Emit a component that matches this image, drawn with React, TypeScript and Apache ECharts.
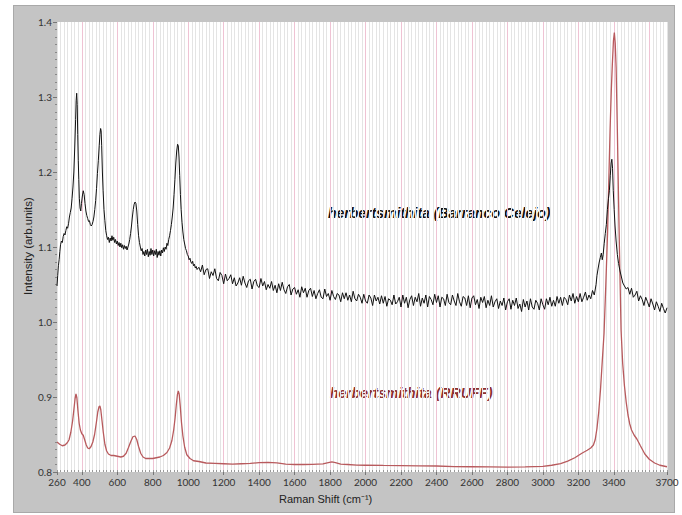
import React, { useEffect, useRef } from "react";
import * as echarts from "echarts";

const xTickLabels = [260, 400, 600, 800, 1000, 1200, 1400, 1600, 1800, 2000, 2200, 2400, 2600, 2800, 3000, 3200, 3400, 3700];
const yTickLabels = [0.8, 0.9, 1.0, 1.1, 1.2, 1.3, 1.4];

const blackName = "herbertsmithita (Barranco Celejo)";
const redName = "herbertsmithita (RRUFF)";

const blackSeries: [number, number][] = [
  [260,1.048],[264,1.062],[268,1.075],[272,1.083],[276,1.094],[280,1.103],[285,1.108],[290,1.106],[295,1.114],[300,1.118],[305,1.116],[310,1.122],[315,1.127],[320,1.125],[325,1.131],[330,1.14],[335,1.146],[340,1.152],[345,1.165],[350,1.18],[355,1.2],[360,1.232],[365,1.27],[368,1.295],[371,1.305],[374,1.29],[377,1.25],[380,1.215],[383,1.19],[386,1.165],[390,1.152],[394,1.148],[398,1.158],[403,1.168],[408,1.175],[413,1.17],[418,1.158],[423,1.148],[428,1.142],[433,1.138],[438,1.134],[443,1.135],[448,1.13],[453,1.128],[458,1.13],[463,1.134],[468,1.14],[473,1.15],[478,1.162],[483,1.178],[488,1.198],[493,1.215],[498,1.235],[502,1.25],[506,1.258],[509,1.255],[512,1.235],[516,1.2],[520,1.175],[525,1.15],[530,1.135],[535,1.122],[540,1.115],[545,1.11],[550,1.113],[555,1.106],[560,1.112],[565,1.108],[570,1.115],[575,1.109],[580,1.113],[585,1.106],[590,1.11],[595,1.104],[600,1.108],[605,1.102],[610,1.106],[615,1.1],[620,1.105],[625,1.099],[630,1.103],[635,1.097],[640,1.102],[645,1.098],[650,1.101],[655,1.096],[660,1.1],[665,1.104],[670,1.11],[675,1.118],[680,1.128],[685,1.14],[690,1.15],[695,1.157],[700,1.16],[705,1.158],[710,1.148],[715,1.13],[720,1.115],[725,1.106],[730,1.1],[735,1.095],[740,1.098],[745,1.09],[750,1.094],[755,1.088],[760,1.096],[765,1.09],[770,1.097],[775,1.087],[780,1.094],[785,1.089],[790,1.098],[795,1.09],[800,1.096],[805,1.088],[810,1.095],[815,1.09],[820,1.097],[825,1.086],[830,1.094],[835,1.089],[840,1.095],[845,1.088],[850,1.096],[855,1.092],[860,1.099],[865,1.094],[870,1.1],[875,1.097],[880,1.105],[885,1.102],[890,1.11],[895,1.115],[900,1.122],[905,1.13],[910,1.14],[915,1.152],[920,1.17],[925,1.19],[930,1.212],[935,1.228],[940,1.237],[944,1.235],[948,1.22],[952,1.195],[956,1.17],[960,1.15],[965,1.133],[970,1.12],[975,1.11],[980,1.104],[985,1.098],[990,1.095],[995,1.09],[1000,1.088],[1005,1.083],[1010,1.085],[1015,1.08],[1020,1.078],[1025,1.081],[1030,1.075],[1035,1.077],[1040,1.072],[1045,1.074],[1050,1.07],
  [1060,1.073],[1070,1.067],[1080,1.076],[1090,1.063],[1100,1.07],
  [1110,1.071],[1120,1.058],[1130,1.067],[1140,1.062],[1150,1.071],[1160,1.058],[1170,1.055],[1180,1.066],[1190,1.062],[1200,1.051],
  [1210,1.064],[1220,1.055],[1230,1.058],[1240,1.063],[1250,1.051],[1260,1.059],[1270,1.048],[1280,1.052],[1290,1.059],[1300,1.049],
  [1310,1.061],[1320,1.052],[1330,1.046],[1340,1.055],[1350,1.057],[1360,1.044],[1370,1.054],[1380,1.057],[1390,1.048],[1400,1.046],
  [1410,1.058],[1420,1.048],[1430,1.054],[1440,1.043],[1450,1.05],[1460,1.045],[1470,1.054],[1480,1.042],[1490,1.049],[1500,1.039],
  [1510,1.051],[1520,1.042],[1530,1.053],[1540,1.043],[1550,1.038],[1560,1.047],[1570,1.05],[1580,1.036],[1590,1.044],[1600,1.046],
  [1610,1.037],[1620,1.043],[1630,1.033],[1640,1.047],[1650,1.039],[1660,1.045],[1670,1.033],[1680,1.042],[1690,1.045],[1700,1.034],
  [1710,1.042],[1720,1.031],[1730,1.038],[1740,1.043],[1750,1.033],[1760,1.031],[1770,1.044],[1780,1.034],[1790,1.038],[1800,1.029],
  [1810,1.042],[1820,1.034],[1830,1.03],[1840,1.038],[1850,1.036],[1860,1.027],[1870,1.039],[1880,1.031],[1890,1.039],[1900,1.029],
  [1910,1.036],[1920,1.027],[1930,1.041],[1940,1.031],[1950,1.028],[1960,1.037],[1970,1.033],[1980,1.025],[1990,1.037],[2000,1.028],
  [2010,1.025],[2020,1.036],[2030,1.032],[2040,1.022],[2050,1.036],[2060,1.028],[2070,1.033],[2080,1.024],[2090,1.035],[2100,1.025],
  [2110,1.034],[2120,1.021],[2130,1.031],[2140,1.029],[2150,1.023],[2160,1.036],[2170,1.024],[2180,1.027],[2190,1.033],[2200,1.02],
  [2210,1.036],[2220,1.025],[2230,1.033],[2240,1.019],[2250,1.03],[2260,1.035],[2270,1.022],[2280,1.033],[2290,1.027],[2300,1.038],
  [2310,1.021],[2320,1.032],[2330,1.025],[2340,1.036],[2350,1.02],[2360,1.034],[2370,1.03],[2380,1.023],[2390,1.037],[2400,1.026],
  [2410,1.035],[2420,1.02],[2430,1.033],[2440,1.031],[2450,1.022],[2460,1.037],[2470,1.026],[2480,1.023],[2490,1.036],[2500,1.028],
  [2510,1.022],[2520,1.038],[2530,1.027],[2540,1.021],[2550,1.034],[2560,1.032],[2570,1.022],[2580,1.035],[2590,1.019],[2600,1.032],
  [2610,1.035],[2620,1.023],[2630,1.03],[2640,1.018],[2650,1.033],[2660,1.026],[2670,1.034],[2680,1.019],[2690,1.029],[2700,1.022],
  [2710,1.035],[2720,1.02],[2730,1.027],[2740,1.031],[2750,1.018],[2760,1.028],[2770,1.022],[2780,1.032],[2790,1.016],[2800,1.027],
  [2810,1.031],[2820,1.017],[2830,1.029],[2840,1.022],[2850,1.032],[2860,1.018],[2870,1.024],[2880,1.014],[2890,1.03],[2900,1.02],
  [2910,1.028],[2920,1.016],[2930,1.031],[2940,1.02],[2950,1.017],[2960,1.029],[2970,1.025],[2980,1.016],[2990,1.031],[3000,1.023],
  [3010,1.017],[3020,1.031],[3030,1.023],[3040,1.033],[3050,1.021],[3060,1.029],[3070,1.021],[3080,1.034],[3090,1.025],[3100,1.033],
  [3110,1.022],[3120,1.033],[3130,1.03],[3140,1.023],[3150,1.036],[3160,1.028],[3170,1.038],[3180,1.025],[3190,1.034],[3200,1.027],
  [3210,1.038],[3220,1.027],[3230,1.033],[3240,1.04],[3250,1.029],[3260,1.036],[3270,1.031],[3280,1.042],[3290,1.036],[3300,1.05],
  [3305,1.062],[3312,1.072],[3318,1.08],[3324,1.086],[3330,1.092],[3335,1.083],[3340,1.09],[3346,1.105],[3352,1.118],[3358,1.13],[3364,1.15],[3370,1.165],[3375,1.175],[3380,1.195],[3385,1.212],[3389,1.217],[3393,1.205],[3397,1.175],[3402,1.15],[3407,1.128],[3413,1.108],[3420,1.09],[3427,1.078],[3435,1.068],[3443,1.06],[3451,1.052],[3460,1.048],[3470,1.044],
  [3480,1.046],[3490,1.037],[3500,1.045],[3510,1.033],[3520,1.036],[3530,1.041],[3540,1.028],[3550,1.035],[3560,1.03],[3570,1.022],[3580,1.033],[3590,1.027],[3600,1.02],[3610,1.031],[3620,1.024],[3630,1.016],[3640,1.027],[3650,1.021],[3660,1.014],[3670,1.025],[3680,1.018],[3690,1.012],[3700,1.019]
];

const redSeries: [number, number][] = [
  [260,0.84],[275,0.837],[290,0.835],[305,0.836],[318,0.839],[328,0.843],[338,0.853],[348,0.868],[356,0.885],[362,0.898],[367,0.904],[372,0.899],[378,0.882],[385,0.865],[392,0.856],[400,0.851],[408,0.849],[416,0.843],[425,0.836],[433,0.832],[442,0.831],[452,0.834],[462,0.84],[472,0.85],[482,0.866],[490,0.88],[497,0.887],[502,0.888],[507,0.883],[514,0.868],[521,0.853],[530,0.837],[540,0.828],[550,0.824],[565,0.822],[580,0.822],[600,0.821],[620,0.82],[635,0.821],[650,0.825],[662,0.832],[675,0.84],[688,0.847],[700,0.848],[710,0.843],[720,0.834],[732,0.825],[745,0.82],[760,0.818],[780,0.818],[800,0.818],[820,0.819],[840,0.82],[860,0.822],[880,0.826],[895,0.832],[908,0.842],[918,0.856],[926,0.872],[933,0.89],[939,0.903],[944,0.908],[949,0.904],[955,0.888],[962,0.866],[970,0.848],[980,0.833],[992,0.823],[1010,0.818],[1030,0.815],[1060,0.814],[1100,0.812],[1150,0.8115],[1200,0.811],[1250,0.8105],[1300,0.811],[1350,0.8115],[1400,0.8125],[1450,0.8128],[1500,0.8122],[1550,0.8105],[1600,0.81],[1650,0.81],[1700,0.8102],[1760,0.8108],[1790,0.8125],[1810,0.8135],[1830,0.8125],[1860,0.8105],[1900,0.81],[1950,0.8092],[2000,0.809],[2100,0.8087],[2200,0.8085],[2300,0.8082],[2400,0.808],[2500,0.8072],[2600,0.807],[2700,0.8068],[2800,0.8065],[2900,0.8068],[3000,0.8075],[3050,0.809],[3100,0.8112],[3140,0.8145],[3180,0.819],[3220,0.825],[3250,0.829],[3270,0.832],[3285,0.836],[3295,0.843],[3305,0.858],[3315,0.88],[3325,0.91],[3335,0.948],[3345,0.985],[3355,1.05],[3365,1.12],[3372,1.19],[3379,1.256],[3386,1.31],[3392,1.345],[3398,1.375],[3403,1.386],[3408,1.372],[3413,1.34],[3420,1.256],[3427,1.16],[3434,1.07],[3441,0.989],[3450,0.945],[3460,0.915],[3470,0.893],[3480,0.876],[3490,0.864],[3500,0.856],[3515,0.849],[3530,0.844],[3550,0.835],[3575,0.824],[3600,0.817],[3630,0.812],[3660,0.809],[3700,0.807]
];

const FONT = "'Liberation Sans', Arial, sans-serif";
const TICK_FONT = "Lato, 'Liberation Sans', sans-serif";
const GRAY_LINE = "#e4e4e4";
const PINK_LINE = "#efc3d4";

export default function App() {
  const ref = useRef<HTMLDivElement>(null);
  useEffect(() => {
    if (!ref.current) return;
    const chart = echarts.init(ref.current, undefined, { renderer: "svg" });
    const gridColors = Array.from({ length: 10 }, (_, i) => (i === 7 ? PINK_LINE : GRAY_LINE));
    chart.setOption({
      animation: false,
      backgroundColor: "transparent",
      grid: {
        left: 57, top: 22, right: 15, bottom: 43,
        show: true, backgroundColor: "#ffffff", borderWidth: 0,
      },
      xAxis: [
        {
          type: "value", min: 260, max: 3700, position: "bottom",
          axisLine: { show: false },
          axisTick: { show: true, customValues: xTickLabels, length: 3, lineStyle: { color: "#777" } },
          axisLabel: { customValues: xTickLabels, color: "#333", fontSize: 10, fontFamily: TICK_FONT, margin: 5, formatter: (v: number) => String(v) },
          splitLine: { show: false },
        },
        {
          type: "value", min: 260, max: 3700, interval: 20, position: "bottom",
          axisLine: { show: false },
          axisTick: { show: true, length: 2, inside: true, lineStyle: { color: "#999" } },
          axisLabel: { show: false },
          splitLine: { show: true, showMinLine: true, showMaxLine: true, lineStyle: { color: gridColors, width: 1 } },
        },
      ],
      yAxis: {
        type: "value", min: yTickLabels[0], max: yTickLabels[yTickLabels.length - 1], interval: 0.1,
        axisLine: { show: false },
        axisTick: { show: true, length: 4, lineStyle: { color: "#777" } },
        minorTick: { show: true, splitNumber: 10, length: 2, lineStyle: { color: "#888" } },
        axisLabel: { color: "#333", fontSize: 10, fontFamily: TICK_FONT, margin: 5, formatter: (v: number) => v.toFixed(1) },
        splitLine: { show: false },
      },
      graphic: [
        {
          type: "text", left: 279, top: 493,
          style: { text: "Raman Shift (cm⁻¹)", fill: "#222", font: `11px ${FONT}` },
        },
        {
          type: "text", x: 28, y: 246, rotation: Math.PI / 2,
          style: { text: "Intensity (arb.units)", fill: "#222", font: `11.5px ${FONT}`, align: "center", verticalAlign: "middle" },
        },
        {
          type: "text", x: 328, y: 213,
          style: { text: blackName, fill: "#111", font: `italic bold 14px ${FONT}`, verticalAlign: "middle" },
        },
        {
          type: "text", x: 330, y: 393,
          style: { text: redName, fill: "#8e2f2f", font: `italic bold 14px ${FONT}`, verticalAlign: "middle" },
        },
      ],
      series: [
        {
          name: redName, type: "line", data: redSeries, showSymbol: false, z: 3,
          lineStyle: { color: "#b85a5d", width: 1.3 },
        },
        {
          name: blackName, type: "line", data: blackSeries, showSymbol: false, z: 4,
          lineStyle: { color: "#111", width: 1 },
        },
      ],
    });
    return () => chart.dispose();
  }, []);
  return (
    <div style={{ position: "fixed", left: 0, top: 0, width: 682, height: 515, background: "#fff" }}>
      <div style={{ position: "absolute", left: 13, top: 5, width: 660, height: 506, background: "#c4c4c4", border: "1px solid #a9a9a9" }} />
      <div ref={ref} style={{ position: "absolute", left: 0, top: 0, width: 682, height: 515 }} />
    </div>
  );
}
